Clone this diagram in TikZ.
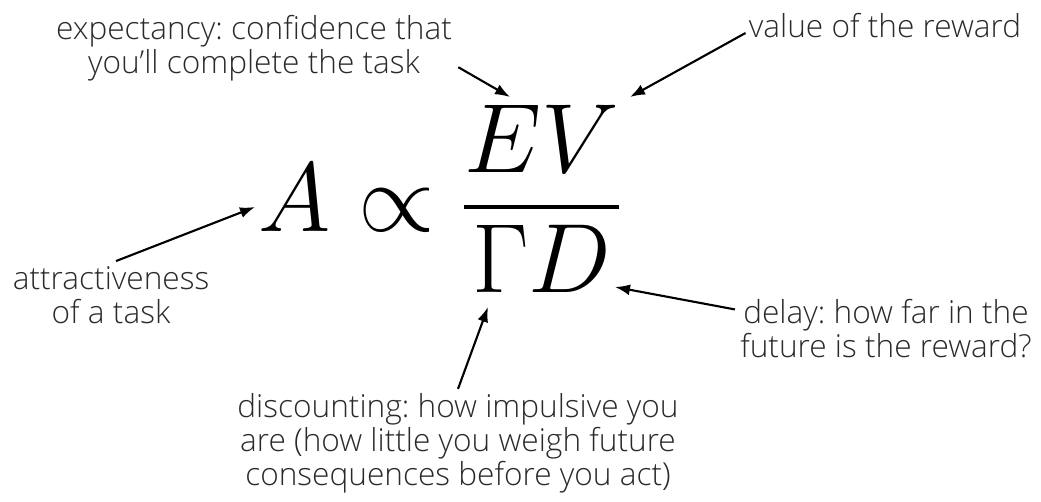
\documentclass[tikz,border=0pt]{standalone}
\usepackage{fix-cm}
\usepackage{amsmath,amssymb}
\usepackage[no-math]{fontspec}
\setmainfont{Open Sans Light}
\usepackage{xcolor}
\usepackage{tikz}
\usetikzlibrary{calc,arrows.meta,positioning}
\definecolor{inkc}{HTML}{2A2A2A}
\frenchspacing
\tikzset{
  ar/.style={-{Latex[length=3mm,width=2.2mm]},line width=1.2pt,black},
  note/.style={align=center,text=inkc,inner sep=0pt,font=\fontsize{18}{19.3}\selectfont}
}
\begin{document}
\begin{tikzpicture}[x=0.02cm,y=-0.02cm]
\useasboundingbox (0,0) rectangle (1041,502);
% the formula
\node[anchor=base,inner sep=0pt] (formula) at (440,232)
  {\fontsize{56}{60}\selectfont $A \propto \dfrac{\raisebox{-4pt}{$EV$}}{\raisebox{4pt}{$\Gamma D$}}$};
\coordinate (atA) at (255,207);
\coordinate (atE) at (510,97);
\coordinate (atV) at (630,97);
\coordinate (atG) at (488,307);
\coordinate (atD) at (615,287);
% the notes
\node[note] (expect) at (254,48) {expectancy: confidence that\\you’ll complete the task};
\node[note] (value) at (885,26) {value of the reward};
\node[note] (attract) at (111,295) {attractiveness\\of a task};
\node[note,anchor=east] (delay) at (1032,329) {delay: how far in the\\future is the reward?};
\node[note] (discount) at (458,443) {discounting: how impulsive you\\are (how little you weigh future\\consequences before you act)};
% arrows
\draw[ar] ($(expect.south east)+(6,-14)$) -- (atE);
\draw[ar] ($(value.west)+(-3,7)$) -- (atV);
\draw[ar] ($(attract.north)+(5,-5)$) -- (atA);
\draw[ar] ($(delay.north west)+(-5,10)$) -- (atD);
\draw[ar] ($(discount.north)+(0,-4)$) -- (atG);
\end{tikzpicture}
\end{document}
